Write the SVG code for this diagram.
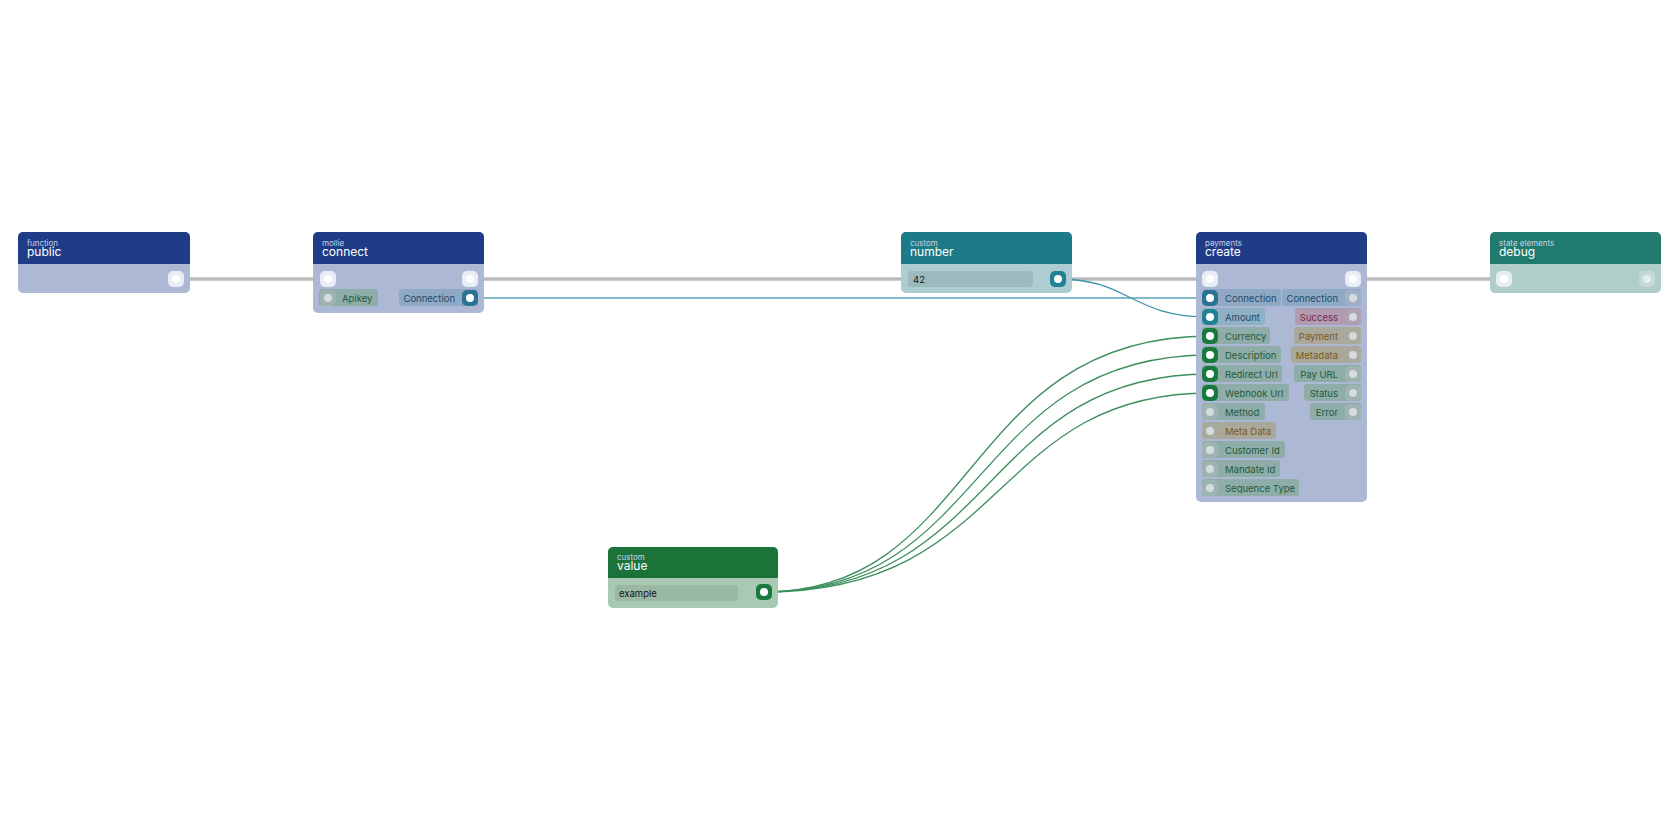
<svg xmlns="http://www.w3.org/2000/svg" width="1680" height="840" viewBox="0 0 1680 840">
<style>
text{font-family:Inter,"Noto Sans",sans-serif}
.sub{font-size:8px;fill:#c8d2ea}
.ttl{font-size:12px;fill:#fff}
.lbl{font-size:9.5px}
.flow{stroke:#bbb;stroke-width:3.5;fill:none}
.pw{fill:#e9edf6}
.dot{fill:#fff}
.gdot{fill:#d4dcdc}
</style>
<rect width="1680" height="840" fill="#fff"/>
<g id="connectors" fill="none">
<path class="flow" d="M176 279H328"/>
<path class="flow" d="M470 279H1210"/>
<path class="flow" d="M1353 279H1504"/>
<path d="M470 298H1210" stroke="#5aa5b8" stroke-width="1.3"/>
<path d="M1058 279C1130 279 1130 317 1210 317" stroke="#3b93a8" stroke-width="1.3"/>
<g stroke="#3d8f5c" stroke-width="1.3">
<path d="M764 592C980 592 960 336 1210 336"/>
<path d="M764 592C990 592 970 355 1210 355"/>
<path d="M764 592C1000 592 980 374 1210 374"/>
<path d="M764 592C1010 592 990 393 1210 393"/>
</g>
</g>
<g id="node-public">
<rect x="18" y="232" width="172" height="61" rx="5" fill="#adb9d4"/>
<path d="M18 264V237a5 5 0 0 1 5-5h162a5 5 0 0 1 5 5v27z" fill="#1f3d87"/>
<text class="sub" x="27" y="246">function</text><text class="ttl" x="27" y="256">public</text>
<rect class="pw" x="168" y="271" width="16" height="16" rx="5"/><circle class="dot" cx="176" cy="279" r="4"/>
</g>
<g id="node-connect">
<rect x="313" y="232" width="171" height="81" rx="5" fill="#adb9d4"/>
<path d="M313 264V237a5 5 0 0 1 5-5h161a5 5 0 0 1 5 5v27z" fill="#1f3d87"/>
<text class="sub" x="322" y="246">mollie</text><text class="ttl" x="322" y="256">connect</text>
<rect class="pw" x="320" y="271" width="16" height="16" rx="5"/><circle class="dot" cx="328" cy="279" r="4"/>
<rect class="pw" x="462" y="271" width="16" height="16" rx="5"/><circle class="dot" cx="470" cy="279" r="4"/>
<rect x="319" y="289" width="59" height="17" rx="3" fill="#8eada9"/>
<rect x="320" y="290" width="16" height="16" rx="5" fill="#9fb3b3"/><circle class="gdot" cx="328" cy="298" r="4"/>
<text class="lbl" x="342" y="302" fill="#1f5a3a">Apikey</text>
<rect x="399" y="289" width="79" height="17" rx="3" fill="#8fa9c4"/>
<rect x="462" y="290" width="16" height="16" rx="5" fill="#2a7196"/><circle class="dot" cx="470" cy="298" r="4"/>
<text class="lbl" x="455" y="302" fill="#1f4a6a" text-anchor="end">Connection</text>
</g>
<g id="node-number">
<rect x="901" y="232" width="171" height="61" rx="5" fill="#aecdd3"/>
<path d="M901 264V237a5 5 0 0 1 5-5h161a5 5 0 0 1 5 5v27z" fill="#1d7a87"/>
<text class="sub" x="910" y="246">custom</text><text class="ttl" x="910" y="256">number</text>
<rect x="908" y="271" width="125" height="16" rx="3" fill="#9cbabd"/>
<text class="lbl" x="913" y="283" fill="#111">42</text>
<rect x="1050" y="271" width="16" height="16" rx="5" fill="#1f8193"/><circle class="dot" cx="1058" cy="279" r="4"/>
</g>
<g id="node-value">
<rect x="608" y="547" width="170" height="61" rx="5" fill="#a8c9b2"/>
<path d="M608 578V552a5 5 0 0 1 5-5h160a5 5 0 0 1 5 5v26z" fill="#1c733a"/>
<text class="sub" x="617" y="560">custom</text><text class="ttl" x="617" y="570">value</text>
<rect x="615" y="585" width="123" height="16" rx="3" fill="#9ab9a4"/>
<text class="lbl" x="619" y="597" fill="#111">example</text>
<rect x="756" y="584" width="16" height="16" rx="5" fill="#1a7a3e"/><circle class="dot" cx="764" cy="592" r="4"/>
</g>
<g id="node-create">
<rect x="1196" y="232" width="171" height="270" rx="5" fill="#adb9d4"/>
<path d="M1196 264V237a5 5 0 0 1 5-5h161a5 5 0 0 1 5 5v27z" fill="#1f3d87"/>
<text class="sub" x="1205" y="246">payments</text><text class="ttl" x="1205" y="256">create</text>
<rect class="pw" x="1202" y="271" width="16" height="16" rx="5"/><circle class="dot" cx="1210" cy="279" r="4"/>
<rect class="pw" x="1345" y="271" width="16" height="16" rx="5"/><circle class="dot" cx="1353" cy="279" r="4"/>
<g class="lbl">
<rect x="1202" y="289" width="79" height="17" rx="3" fill="#8fa9c4"/><rect x="1202" y="290" width="16" height="16" rx="5" fill="#2a7196"/><circle class="dot" cx="1210" cy="298" r="4"/><text x="1225" y="302" fill="#1f4a6a">Connection</text>
<rect x="1202" y="308" width="63" height="17" rx="3" fill="#8fb1c4"/><rect x="1202" y="309" width="16" height="16" rx="5" fill="#1f8193"/><circle class="dot" cx="1210" cy="317" r="4"/><text x="1225" y="321" fill="#1f4a6a">Amount</text>
<rect x="1202" y="327" width="68" height="17" rx="3" fill="#8eada9"/><rect x="1202" y="328" width="16" height="16" rx="5" fill="#1a7a3e"/><circle class="dot" cx="1210" cy="336" r="4"/><text x="1225" y="340" fill="#1f5a3a">Currency</text>
<rect x="1202" y="346" width="79" height="17" rx="3" fill="#8eada9"/><rect x="1202" y="347" width="16" height="16" rx="5" fill="#1a7a3e"/><circle class="dot" cx="1210" cy="355" r="4"/><text x="1225" y="359" fill="#1f5a3a">Description</text>
<rect x="1202" y="365" width="80" height="17" rx="3" fill="#8eada9"/><rect x="1202" y="366" width="16" height="16" rx="5" fill="#1a7a3e"/><circle class="dot" cx="1210" cy="374" r="4"/><text x="1225" y="378" fill="#1f5a3a">Redirect Url</text>
<rect x="1202" y="384" width="87" height="17" rx="3" fill="#8eada9"/><rect x="1202" y="385" width="16" height="16" rx="5" fill="#1a7a3e"/><circle class="dot" cx="1210" cy="393" r="4"/><text x="1225" y="397" fill="#1f5a3a">Webhook Url</text>
<rect x="1202" y="403" width="63" height="17" rx="3" fill="#8eada9"/><rect x="1202" y="404" width="16" height="16" rx="5" fill="#9fb3b3"/><circle class="gdot" cx="1210" cy="412" r="4"/><text x="1225" y="416" fill="#1f5a3a">Method</text>
<rect x="1202" y="422" width="74" height="17" rx="3" fill="#a9a89a"/><rect x="1202" y="423" width="16" height="16" rx="5" fill="#aaa9a0"/><circle class="gdot" cx="1210" cy="431" r="4"/><text x="1225" y="435" fill="#7a5a20">Meta Data</text>
<rect x="1202" y="441" width="83" height="17" rx="3" fill="#8eada9"/><rect x="1202" y="442" width="16" height="16" rx="5" fill="#9fb3b3"/><circle class="gdot" cx="1210" cy="450" r="4"/><text x="1225" y="454" fill="#1f5a3a">Customer Id</text>
<rect x="1202" y="460" width="78" height="17" rx="3" fill="#8eada9"/><rect x="1202" y="461" width="16" height="16" rx="5" fill="#9fb3b3"/><circle class="gdot" cx="1210" cy="469" r="4"/><text x="1225" y="473" fill="#1f5a3a">Mandate Id</text>
<rect x="1202" y="479" width="97" height="17" rx="3" fill="#8eada9"/><rect x="1202" y="480" width="16" height="16" rx="5" fill="#9fb3b3"/><circle class="gdot" cx="1210" cy="488" r="4"/><text x="1225" y="492" fill="#1f5a3a">Sequence Type</text>
<g text-anchor="end">
<rect x="1282" y="289" width="79" height="17" rx="3" fill="#8fa9c4"/><rect x="1345" y="290" width="16" height="16" rx="5" fill="#9fb0c8"/><circle class="gdot" cx="1353" cy="298" r="4"/><text x="1338" y="302" fill="#1f4a6a">Connection</text>
<rect x="1295" y="308" width="66" height="17" rx="3" fill="#b09bb0"/><rect x="1345" y="309" width="16" height="16" rx="5" fill="#b0a0b4"/><circle class="gdot" cx="1353" cy="317" r="4"/><text x="1338" y="321" fill="#7a2a4a">Success</text>
<rect x="1294" y="327" width="67" height="17" rx="3" fill="#a9a89a"/><rect x="1345" y="328" width="16" height="16" rx="5" fill="#aaa9a0"/><circle class="gdot" cx="1353" cy="336" r="4"/><text x="1338" y="340" fill="#7a5a20">Payment</text>
<rect x="1291" y="346" width="70" height="17" rx="3" fill="#a9a89a"/><rect x="1345" y="347" width="16" height="16" rx="5" fill="#aaa9a0"/><circle class="gdot" cx="1353" cy="355" r="4"/><text x="1338" y="359" fill="#7a5a20">Metadata</text>
<rect x="1294" y="365" width="67" height="17" rx="3" fill="#8eada9"/><rect x="1345" y="366" width="16" height="16" rx="5" fill="#9fb3b3"/><circle class="gdot" cx="1353" cy="374" r="4"/><text x="1338" y="378" fill="#1f5a3a">Pay URL</text>
<rect x="1304" y="384" width="57" height="17" rx="3" fill="#8eada9"/><rect x="1345" y="385" width="16" height="16" rx="5" fill="#9fb3b3"/><circle class="gdot" cx="1353" cy="393" r="4"/><text x="1338" y="397" fill="#1f5a3a">Status</text>
<rect x="1310" y="403" width="51" height="17" rx="3" fill="#8eada9"/><rect x="1345" y="404" width="16" height="16" rx="5" fill="#9fb3b3"/><circle class="gdot" cx="1353" cy="412" r="4"/><text x="1338" y="416" fill="#1f5a3a">Error</text>
</g>
</g>
</g>
<g id="node-debug">
<rect x="1490" y="232" width="171" height="61" rx="5" fill="#b0cdca"/>
<path d="M1490 264V237a5 5 0 0 1 5-5h161a5 5 0 0 1 5 5v27z" fill="#217a6e"/>
<text class="sub" x="1499" y="246" fill="#c0dcd6">state elements</text><text class="ttl" x="1499" y="256">debug</text>
<rect x="1496" y="271" width="16" height="16" rx="5" fill="#e4eeec"/><circle class="dot" cx="1504" cy="279" r="4"/>
<rect x="1639" y="271" width="16" height="16" rx="5" fill="#c4dad7"/><circle cx="1647" cy="279" r="4" fill="#e4eeec"/>
</g>
</svg>
